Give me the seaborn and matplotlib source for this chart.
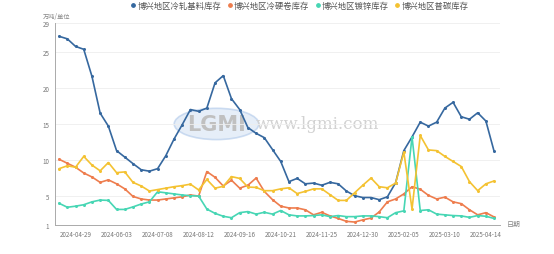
import matplotlib
matplotlib.use('Agg')
import matplotlib.pyplot as plt
import seaborn as sns
import pandas as pd
from matplotlib.lines import Line2D
from matplotlib.patches import Ellipse

dates = ['2024-04-15', '2024-04-22', '2024-04-29', '2024-05-06', '2024-05-13', '2024-05-20',
         '2024-05-27', '2024-06-03', '2024-06-10', '2024-06-17', '2024-06-24', '2024-07-01',
         '2024-07-08', '2024-07-15', '2024-07-22', '2024-07-29', '2024-08-05', '2024-08-12',
         '2024-08-19', '2024-08-26', '2024-09-02', '2024-09-09', '2024-09-16', '2024-09-23',
         '2024-09-30', '2024-10-07', '2024-10-14', '2024-10-21', '2024-10-28', '2024-11-04',
         '2024-11-11', '2024-11-18', '2024-11-25', '2024-12-02', '2024-12-09', '2024-12-16',
         '2024-12-23', '2024-12-30', '2025-01-06', '2025-01-13', '2025-01-20', '2025-01-24',
         '2025-02-05', '2025-02-10', '2025-02-17', '2025-02-24', '2025-03-03', '2025-03-10',
         '2025-03-17', '2025-03-24', '2025-03-31', '2025-04-07', '2025-04-14', '2025-04-21']

# 冷轧基料
lengzha = [27.15, 26.8, 25.75, 25.35, 21.6, 16.5, 14.7, 11.3, 10.4, 9.5, 8.65, 8.45,
           8.8, 10.6, 12.9, 14.9, 17.0, 16.75, 17.2, 20.7, 21.7, 18.5, 17.0, 14.5,
           13.7, 13.1, 11.45, 9.8, 7.0, 7.45, 6.7, 6.8, 6.5, 6.9, 6.7, 5.7,
           5.05, 4.8, 4.8, 4.5, 4.9, 6.85, 11.3, 13.2, 15.25, 14.7, 15.25, 17.2,
           18.0, 16.0, 15.65, 16.55, 15.4, 11.2]
# 冷硬卷
lengying = [10.1, 9.55, 9.0, 8.2, 7.65, 6.9, 7.25, 6.7, 6.0, 4.95, 4.6, 4.45,
            4.45, 4.6, 4.75, 4.9, 5.15, 5.0, 8.4, 7.6, 6.4, 7.2, 6.1, 6.5,
            7.5, 5.65, 4.5, 3.6, 3.35, 3.35, 3.1, 2.4, 2.75, 2.25, 1.9, 1.5,
            1.4, 1.7, 1.95, 2.8, 4.2, 4.6, 5.3, 6.3, 5.95, 5.1, 4.6, 4.85,
            4.2, 3.95, 3.1, 2.4, 2.7, 2.1]
# 镀锌
duxin = [4.0, 3.45, 3.6, 3.8, 4.2, 4.45, 4.4, 3.15, 3.15, 3.5, 3.9, 4.2,
         5.6, 5.45, 5.3, 5.15, 5.05, 5.0, 3.2, 2.6, 2.2, 2.0, 2.7, 2.85,
         2.5, 2.75, 2.5, 3.0, 2.4, 2.25, 2.25, 2.3, 2.4, 2.15, 2.3, 2.15,
         2.15, 2.25, 2.25, 2.15, 2.0, 2.7, 2.95, 13.2, 3.0, 3.1, 2.5, 2.4,
         2.3, 2.25, 2.05, 2.3, 2.2, 1.9]
# 普碳
putan = [8.8, 9.2, 9.0, 10.5, 9.3, 8.5, 9.65, 8.25, 8.35, 6.9, 6.4, 5.7,
         5.9, 6.1, 6.3, 6.45, 6.65, 5.85, 7.3, 6.1, 6.35, 7.7, 7.45, 6.25,
         6.2, 5.75, 5.75, 6.0, 6.15, 5.35, 5.65, 6.0, 6.0, 5.2, 4.4, 4.4,
         5.45, 6.5, 7.5, 6.3, 6.15, 6.8, 11.1, 3.2, 13.4, 11.4, 11.3, 10.5,
         9.8, 9.1, 7.0, 5.75, 6.7, 7.1]

names = ['博兴地区冷轧基料库存', '博兴地区冷硬卷库存', '博兴地区镀锌库存', '博兴地区普碳库存']
colors = ['#36689f', '#ee7d4e', '#47d6b4', '#f4c232']

rows = []
for name, vals in zip(names, [lengzha, lengying, duxin, putan]):
    for i, v in enumerate(vals):
        rows.append({'idx': i, 'value': v, 'series': name})
df = pd.DataFrame(rows)

sns.set_style('white')
plt.rcParams['font.family'] = ['Noto Sans CJK SC', 'DejaVu Sans']

fig = plt.figure(figsize=(5.54, 2.55), dpi=100)
ax = fig.add_axes([0.099, 0.114, 0.804, 0.792])

# marca d'agua
ax.add_patch(Ellipse((0.363, 0.5), 0.19, 0.155, transform=ax.transAxes,
                     facecolor='#d3e1f3', edgecolor='#a9c4e8', lw=1.2, alpha=0.55, zorder=0))
ax.text(0.363, 0.5, 'LGMI', transform=ax.transAxes, ha='center', va='center',
        fontsize=15, color='#c0c0c0', fontweight='bold', family='DejaVu Sans', zorder=0)
ax.text(0.59, 0.5, 'www.lgmi.com', transform=ax.transAxes, ha='center', va='center',
        fontsize=12, color='#d2d2d2', family='DejaVu Serif', zorder=0)

sns.lineplot(data=df, x='idx', y='value', hue='series', palette=colors,
             marker='o', markersize=2.2, markeredgewidth=0, linewidth=1.2,
             legend=False, ax=ax, zorder=3)

ax.set_xlim(-0.52, 53.75)
ax.set_ylim(1, 29)
ax.set_yticks([1, 5, 10, 15, 20, 25, 29])
ax.set_yticklabels(['1', '5', '10', '15', '20', '25', '29'])
tick_idx = list(range(2, 54, 5))
ax.set_xticks(tick_idx)
ax.set_xticklabels([dates[i] for i in tick_idx])
ax.tick_params(axis='both', labelsize=4.5, colors='#888888', length=2, width=0.6, pad=2)
ax.tick_params(axis='x', labelcolor='#777777')
ax.tick_params(axis='y', labelcolor='#777777')

for y in [5, 10, 15, 20, 25, 29]:
    ax.axhline(y, color='#eeeeee', lw=0.6, zorder=1)

for s in ['top', 'right']:
    ax.spines[s].set_visible(False)
for s in ['left', 'bottom']:
    ax.spines[s].set_color('#aaaaaa')
    ax.spines[s].set_linewidth(0.7)
ax.set_xlabel('')
ax.set_ylabel('')

fig.text(0.077, 0.925, '万吨/单位', fontsize=4.5, color='#888888')
fig.text(0.915, 0.11, '日期', fontsize=5, color='#888888')

handles = [Line2D([0], [0], marker='o', color='w', markerfacecolor=c, markersize=4.5, lw=0)
           for c in colors]
fig.legend(handles, names, loc='upper center', bbox_to_anchor=(0.54, 1.02), ncol=4,
           frameon=False, fontsize=6, handletextpad=0.1, columnspacing=0.6,
           handlelength=0.8, labelcolor='#555555')

fig.savefig('out.png', dpi=100)
